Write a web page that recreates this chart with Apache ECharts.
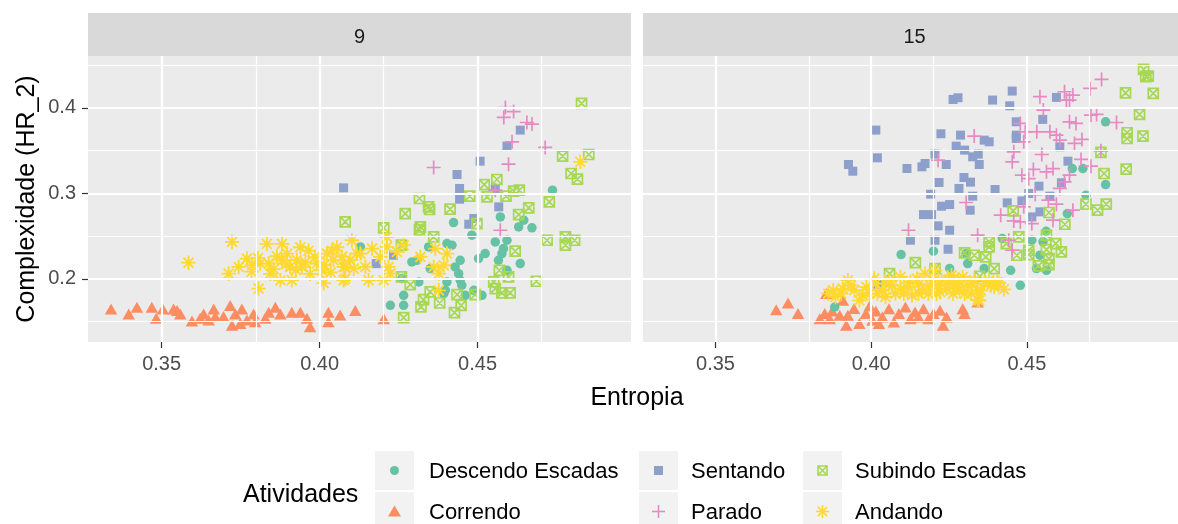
<!DOCTYPE html>
<html>
<head>
<meta charset="utf-8">
<script src="https://cdn.jsdelivr.net/npm/echarts@6/dist/echarts.min.js"></script>
<style>html,body{margin:0;padding:0;background:#fff}#c{width:1178px;height:524px}</style>
</head>
<body>
<div id="c"></div>
<script>
// ---------- data ----------
const facets = ['9', '15'];
const activities = ['Descendo Escadas', 'Correndo', 'Sentando', 'Parado', 'Subindo Escadas', 'Andando'];
const xTicks = [0.35, 0.40, 0.45];
const yTicks = [0.2, 0.3, 0.4];
const xMinor = [0.375, 0.425, 0.475];
const yMinor = [0.15, 0.25, 0.35, 0.45];

const correndo9 = [[0.334,0.165],[0.3396,0.159],[0.3422,0.167],[0.3469,0.167],[0.3483,0.154],[0.3504,0.165],[0.3538,0.165],[0.3549,0.163],[0.3559,0.159],[0.3596,0.151],[0.3622,0.154],[0.3633,0.159],[0.3649,0.152],[0.3665,0.165],[0.367,0.156],[0.3696,0.156],[0.3717,0.169],[0.3723,0.146],[0.3733,0.159],[0.3754,0.165],[0.3749,0.148],[0.377,0.152],[0.3791,0.159],[0.3796,0.15],[0.3828,0.154],[0.3839,0.161],[0.386,0.167],[0.3876,0.159],[0.3912,0.161],[0.3939,0.161],[0.396,0.154],[0.397,0.144],[0.4028,0.161],[0.4028,0.15],[0.4065,0.158],[0.4113,0.163],[0.4203,0.1536]];
const andando9 = [[0.3585,0.219],[0.3723,0.2433],[0.3712,0.2062],[0.3744,0.214],[0.377,0.2238],[0.3786,0.216],[0.3812,0.218],[0.3807,0.1887],[0.3833,0.241],[0.3839,0.218],[0.3844,0.206],[0.3881,0.241],[0.3881,0.222],[0.3876,0.1985],[0.3897,0.2296],[0.3907,0.214],[0.3912,0.1985],[0.3928,0.222],[0.3939,0.237],[0.3944,0.214],[0.3965,0.233],[0.397,0.206],[0.3991,0.218],[0.4007,0.21],[0.4013,0.195],[0.4023,0.2296],[0.4039,0.233],[0.4044,0.222],[0.4055,0.237],[0.4071,0.226],[0.4076,0.1985],[0.4081,0.214],[0.4102,0.2452],[0.4097,0.222],[0.4118,0.2296],[0.4108,0.212],[0.4076,0.214],[0.4081,0.2004],[0.4129,0.2296],[0.4145,0.214],[0.4155,0.1984],[0.4166,0.2355],[0.4192,0.2257],[0.4203,0.1984],[0.4213,0.249],[0.4213,0.2374],[0.4218,0.214],[0.4224,0.2062],[0.4245,0.2316],[0.4266,0.2394],[0.4319,0.2257],[0.4366,0.2355],[0.4361,0.214],[0.4377,0.2062],[0.4377,0.1867],[0.4403,0.2296],[0.4393,0.216],[0.4825,0.3368],[0.3855,0.2115],[0.3895,0.2175],[0.3925,0.2105],[0.3955,0.2195],[0.3985,0.2255],[0.4015,0.2165],[0.4035,0.2075],[0.3865,0.2265],[0.3805,0.2245],[0.3785,0.2085]];
const descendo9 = [[0.4129,0.2374],[0.4424,0.2659],[0.4482,0.2511],[0.4572,0.2725],[0.4556,0.2433],[0.4593,0.2452],[0.463,0.2608],[0.4646,0.2686],[0.4672,0.2597],[0.4737,0.3037],[0.4345,0.2374],[0.4403,0.2413],[0.4419,0.2394],[0.4292,0.2199],[0.4308,0.2218],[0.435,0.2121],[0.4445,0.2218],[0.4429,0.214],[0.444,0.2062],[0.4445,0.1984],[0.4403,0.1965],[0.4398,0.1867],[0.4314,0.1965],[0.4261,0.2004],[0.4266,0.1809],[0.4266,0.1692],[0.4224,0.1692],[0.4393,0.1828],[0.4461,0.1809],[0.4488,0.1867],[0.4514,0.1809],[0.4503,0.2238],[0.4524,0.2296],[0.4566,0.2218],[0.4577,0.2296],[0.4582,0.2355],[0.4593,0.2101],[0.4635,0.2179],[0.445,0.1926]];
const sentando9 = [[0.4076,0.3064],[0.4635,0.3739],[0.4593,0.3552],[0.4508,0.3376],[0.4435,0.322],[0.4443,0.3057],[0.4443,0.2932],[0.4567,0.2842],[0.4556,0.3057],[0.4488,0.2706],[0.4472,0.2639],[0.4179,0.2179],[0.4234,0.2277]];
const parado9 = [[0.4588,0.4002],[0.4614,0.3955],[0.4583,0.3887],[0.4656,0.3828],[0.4672,0.3809],[0.4609,0.3602],[0.4714,0.3536],[0.4361,0.3302],[0.4598,0.3341],[0.4556,0.3037],[0.4572,0.2569]];
const subindo9 = [[0.4081,0.2667],[0.4829,0.4051],[0.4852,0.3454],[0.4769,0.3435],[0.4796,0.3232],[0.4816,0.3166],[0.4561,0.3162],[0.4521,0.3103],[0.453,0.2959],[0.4475,0.2967],[0.459,0.2967],[0.4614,0.3025],[0.4632,0.3037],[0.4316,0.294],[0.4345,0.2842],[0.4348,0.2811],[0.4413,0.2815],[0.4271,0.2764],[0.4662,0.283],[0.4727,0.29],[0.463,0.2752],[0.4319,0.2608],[0.4316,0.2577],[0.4203,0.2597],[0.4498,0.2647],[0.4361,0.2491],[0.4259,0.2394],[0.472,0.2452],[0.4778,0.2491],[0.4778,0.2394],[0.4807,0.2452],[0.4619,0.2324],[0.4569,0.2101],[0.4598,0.2023],[0.4551,0.1965],[0.4556,0.1887],[0.4686,0.1973],[0.4577,0.1836],[0.4603,0.1836],[0.4259,0.2023],[0.4287,0.1934],[0.435,0.1848],[0.4329,0.1758],[0.4321,0.1673],[0.438,0.1719],[0.4435,0.1817],[0.4492,0.1817],[0.4448,0.1692],[0.4427,0.1606],[0.4266,0.1548]];

const sentando15 = [[0.4015,0.3739],[0.402,0.3415],[0.3927,0.3337],[0.3941,0.3259],[0.4263,0.4097],[0.4279,0.4117],[0.4453,0.4195],[0.439,0.409],[0.4445,0.4023],[0.4595,0.4121],[0.4224,0.3696],[0.4287,0.368],[0.4466,0.3836],[0.4551,0.3864],[0.4466,0.368],[0.4466,0.3641],[0.4273,0.3552],[0.43,0.3505],[0.4363,0.3622],[0.4379,0.3602],[0.4205,0.3458],[0.4326,0.3427],[0.4344,0.3458],[0.4115,0.329],[0.4163,0.331],[0.4173,0.3349],[0.4241,0.3337],[0.4347,0.3337],[0.4606,0.3544],[0.4632,0.3376],[0.4218,0.3127],[0.4298,0.3185],[0.4319,0.3131],[0.4282,0.3057],[0.4398,0.3045],[0.4191,0.299],[0.4326,0.2967],[0.4226,0.285],[0.4252,0.2869],[0.4168,0.2752],[0.4194,0.2752],[0.4318,0.2803],[0.4215,0.262],[0.4252,0.2569],[0.4126,0.2452],[0.4205,0.2452],[0.4247,0.2347],[0.4437,0.2889],[0.4484,0.2912],[0.4506,0.2998],[0.4539,0.3084],[0.4574,0.2967],[0.4542,0.2784],[0.4611,0.3123],[0.4516,0.2725],[0.402,0.1938]];
const parado15 = [[0.474,0.4331],[0.4621,0.4187],[0.4648,0.4148],[0.4627,0.409],[0.4703,0.4226],[0.4542,0.4129],[0.4553,0.3973],[0.4637,0.409],[0.4637,0.3836],[0.4658,0.3817],[0.4706,0.3914],[0.4724,0.3922],[0.4788,0.3828],[0.4479,0.3817],[0.4495,0.3719],[0.4532,0.3719],[0.4574,0.3719],[0.4595,0.368],[0.4606,0.3622],[0.449,0.3602],[0.4331,0.3669],[0.4653,0.3583],[0.4677,0.363],[0.4458,0.3485],[0.4548,0.3454],[0.4215,0.3388],[0.4453,0.3368],[0.4674,0.3396],[0.4706,0.3318],[0.4738,0.3497],[0.4484,0.3212],[0.4521,0.3279],[0.4563,0.3251],[0.4584,0.329],[0.4637,0.3212],[0.4621,0.3134],[0.4506,0.3173],[0.4606,0.3057],[0.4527,0.2986],[0.4569,0.292],[0.4595,0.2873],[0.449,0.2842],[0.4305,0.2893],[0.4416,0.2745],[0.4458,0.2678],[0.4479,0.2667],[0.4516,0.2647],[0.4584,0.2686],[0.4648,0.2803],[0.412,0.2569],[0.4342,0.2511],[0.4442,0.2452],[0.4453,0.2335]];
const descendo15 = [[0.4753,0.3836],[0.4646,0.329],[0.468,0.329],[0.4753,0.3103],[0.469,0.2979],[0.463,0.2764],[0.4562,0.2557],[0.4552,0.2433],[0.4516,0.2452],[0.4542,0.2277],[0.4531,0.2121],[0.4563,0.2101],[0.4479,0.1926],[0.4448,0.2101],[0.4421,0.2472],[0.4363,0.2121],[0.431,0.218],[0.4305,0.2296],[0.4252,0.2121],[0.42,0.2324],[0.4096,0.2285],[0.3883,0.1672]];
const subindo15 = [[0.4875,0.4448],[0.4882,0.4363],[0.489,0.437],[0.4817,0.4175],[0.4906,0.4168],[0.4862,0.3922],[0.4822,0.3708],[0.4822,0.3641],[0.4873,0.3669],[0.4738,0.3478],[0.4748,0.3232],[0.4819,0.3283],[0.469,0.2873],[0.4727,0.2803],[0.4755,0.2873],[0.4622,0.2639],[0.4571,0.2776],[0.4456,0.2795],[0.4563,0.2511],[0.4593,0.2413],[0.4611,0.2316],[0.4563,0.2343],[0.4571,0.2238],[0.4571,0.2168],[0.4537,0.2152],[0.4506,0.2335],[0.4506,0.2285],[0.4474,0.2491],[0.4468,0.2277],[0.4434,0.2413],[0.4379,0.2433],[0.4379,0.2374],[0.4368,0.2257],[0.4395,0.2121],[0.4331,0.2277],[0.43,0.2304],[0.4349,0.2031],[0.4142,0.2191],[0.4059,0.2062],[0.4205,0.2121]];
const andando15 = [[0.3862,0.1829],[0.3878,0.1868],[0.3904,0.1829],[0.3925,0.1985],[0.3909,0.1887],[0.3946,0.1868],[0.3973,0.1809],[0.3994,0.1829],[0.401,0.2004],[0.4036,0.1868],[0.3962,0.175],[0.4015,0.1945],[0.4036,0.1867],[0.4057,0.1984],[0.4078,0.1829],[0.4094,0.2023],[0.4115,0.1906],[0.4131,0.1809],[0.4147,0.2004],[0.4163,0.1867],[0.4173,0.2062],[0.4189,0.1926],[0.4205,0.2101],[0.421,0.1828],[0.4226,0.1984],[0.4242,0.1887],[0.4258,0.2043],[0.4268,0.1945],[0.4284,0.1867],[0.4294,0.2023],[0.431,0.1926],[0.4321,0.1828],[0.4331,0.1984],[0.4342,0.1867],[0.4363,0.1945],[0.4379,0.1984],[0.4395,0.1906],[0.4405,0.1965],[0.4426,0.1879],[0.4342,0.1758],[0.402,0.1829],[0.4046,0.1789],[0.4067,0.1926],[0.4105,0.1828],[0.4126,0.1965],[0.4152,0.1828],[0.4184,0.1828],[0.42,0.1984],[0.4221,0.1848],[0.4247,0.1984],[0.4263,0.1828],[0.4279,0.1984],[0.43,0.1828],[0.4352,0.1867],[0.3885,0.179],[0.3935,0.1925],[0.3985,0.1905],[0.4045,0.1945],[0.4095,0.1885],[0.4155,0.1945],[0.4215,0.1925],[0.4275,0.1905],[0.4325,0.1945],[0.4385,0.1925],[0.441,0.195],[0.4347,0.1748]];
const correndo15 = [[0.3695,0.1641],[0.3733,0.1719],[0.3765,0.1595],[0.3851,0.1595],[0.3835,0.1536],[0.3867,0.1536],[0.3899,0.1575],[0.392,0.1458],[0.3925,0.1575],[0.3962,0.1478],[0.3983,0.1595],[0.4004,0.1517],[0.4025,0.1478],[0.3856,0.1829],[0.3909,0.175],[0.4036,0.1556],[0.4057,0.1653],[0.4073,0.1497],[0.4089,0.1595],[0.411,0.1672],[0.4126,0.1536],[0.4141,0.1614],[0.4152,0.1556],[0.4168,0.1653],[0.4184,0.1536],[0.42,0.1595],[0.4221,0.1634],[0.4231,0.1458],[0.4242,0.1556],[0.4294,0.1653],[0.43,0.1595],[0.4342,0.1731],[0.3875,0.1625],[0.3945,0.1655],[0.3995,0.1685],[0.4015,0.1625]];

// ---------- style ----------
const FONT = '"Liberation Sans", Arial, sans-serif';
const COLORS = {'Descendo Escadas':'#66C2A5','Correndo':'#FC8D62','Sentando':'#8DA0CB','Parado':'#E78AC3','Subindo Escadas':'#A6D854','Andando':'#FFD92F'};
const P_PLUS = 'M5,0V10M0,5H10';
const P_BOXX = 'M0,0H10V10H0ZM0,0L10,10M10,0L0,10';
const P_AST = 'M5,0V10M0,5H10M1.6,1.6L8.4,8.4M8.4,1.6L1.6,8.4';
const SYM = {
  'Descendo Escadas': {symbol:'circle', size:9.5, stroke:0},
  'Correndo': {symbol:'triangle', size:[12.5,11], stroke:0},
  'Sentando': {symbol:'rect', size:9, stroke:0},
  'Parado': {symbol:'path://' + P_PLUS, size:14, stroke:1.7},
  'Subindo Escadas': {symbol:'path://' + P_BOXX, size:10, stroke:1.7},
  'Andando': {symbol:'path://' + P_AST, size:14.5, stroke:1.8}
};
const byPanel = [
  {'Sentando':sentando9,'Correndo':correndo9,'Descendo Escadas':descendo9,'Subindo Escadas':subindo9,'Andando':andando9,'Parado':parado9},
  {'Sentando':sentando15,'Correndo':correndo15,'Descendo Escadas':descendo15,'Subindo Escadas':subindo15,'Andando':andando15,'Parado':parado15}
];
const drawOrder = ['Sentando','Correndo','Descendo Escadas','Subindo Escadas','Andando','Parado'];

const PANEL_W = 543, PANEL_H = 286, PANEL_TOP = 56;
const panelLeft = [88, 643];
const X_MIN = 0.32671, X_MAX = 0.49855, Y_MIN = 0.12632, Y_MAX = 0.46047;

const chart = echarts.init(document.getElementById('c'), null, {renderer:'canvas'});

const grids = panelLeft.map(l => ({left:l, top:PANEL_TOP, width:PANEL_W, height:PANEL_H, show:true, backgroundColor:'#EBEBEB', borderWidth:0, containLabel:false}));

const xAxes = panelLeft.map((l,i) => ({
  type:'value', gridIndex:i, min:X_MIN, max:X_MAX,
  axisLine:{show:false}, splitLine:{show:false},
  axisTick:{show:true, length:6, customValues:xTicks, lineStyle:{color:'#333333', width:1.2}},
  axisLabel:{show:true, customValues:xTicks, margin:12, color:'#4D4D4D', fontSize:20, fontFamily:FONT, formatter:v => Number(v).toFixed(2)}
}));
const yAxes = panelLeft.map((l,i) => ({
  type:'value', gridIndex:i, min:Y_MIN, max:Y_MAX,
  axisLine:{show:false}, splitLine:{show:false},
  axisTick:{show:i===0, length:6, customValues:yTicks, lineStyle:{color:'#333333', width:1.2}},
  axisLabel:{show:i===0, customValues:yTicks, margin:12, color:'#4D4D4D', fontSize:20, fontFamily:FONT, formatter:v => Number(v).toFixed(1)}
}));

const series = [];
panelLeft.forEach((l,i) => {
  const ml = [];
  xMinor.forEach(v => ml.push({xAxis:v, lineStyle:{width:1.2}}));
  yMinor.forEach(v => ml.push({yAxis:v, lineStyle:{width:1.2}}));
  xTicks.forEach(v => ml.push({xAxis:v, lineStyle:{width:2.2}}));
  yTicks.forEach(v => ml.push({yAxis:v, lineStyle:{width:2.2}}));
  series.push({
    type:'scatter', xAxisIndex:i, yAxisIndex:i, data:[], z:1, silent:true,
    markLine:{silent:true, symbol:['none','none'], label:{show:false}, animation:false,
      lineStyle:{color:'#FFFFFF', type:'solid', opacity:1}, data:ml}
  });
  drawOrder.forEach(name => {
    const s = SYM[name];
    const c = COLORS[name];
    series.push({
      name:name, type:'scatter', xAxisIndex:i, yAxisIndex:i, z:2,
      data:byPanel[i][name], symbol:s.symbol, symbolSize:s.size, silent:true,
      itemStyle: s.stroke ? {color:'rgba(0,0,0,0)', borderColor:c, borderWidth:s.stroke, opacity:1}
                          : {color:c, borderWidth:0, opacity:1}
    });
  });
});

// ---------- strips, titles, legend (graphic) ----------
const graphic = [];
panelLeft.forEach((l,i) => {
  graphic.push({type:'rect', shape:{x:l, y:13, width:PANEL_W, height:43}, style:{fill:'#D9D9D9'}, silent:true});
  graphic.push({type:'text', x:l + PANEL_W/2, y:37, style:{text:facets[i], fill:'#1A1A1A', font:'20px ' + FONT, align:'center', verticalAlign:'middle'}, silent:true});
});
graphic.push({type:'text', x:(panelLeft[0] + panelLeft[1] + PANEL_W)/2, y:398, style:{text:'Entropia', fill:'#000', font:'25px ' + FONT, align:'center', verticalAlign:'middle'}, silent:true});
graphic.push({type:'text', x:27, y:PANEL_TOP + PANEL_H/2, rotation:Math.PI/2, style:{text:'Complexidade (HR_2)', fill:'#000', font:'25px ' + FONT, align:'center', verticalAlign:'middle'}, silent:true});
graphic.push({type:'text', x:243, y:495, style:{text:'Atividades', fill:'#000', font:'25px ' + FONT, align:'left', verticalAlign:'middle'}, silent:true});

function segs(list, c) {
  return list.map(s => ({type:'line', shape:{x1:s[0], y1:s[1], x2:s[2], y2:s[3]}, style:{stroke:c, lineWidth:1.6}, silent:true}));
}
const legendLayout = [
  ['Descendo Escadas', 375, 451, 429], ['Sentando', 639, 451, 691], ['Subindo Escadas', 803, 451, 855],
  ['Correndo', 375, 492, 429], ['Parado', 639, 492, 691], ['Andando', 803, 492, 855]
];
legendLayout.forEach(([name, kx, ky, tx]) => {
  const c = COLORS[name];
  const cx = kx + 19.5, cy = ky + 19.5;
  graphic.push({type:'rect', shape:{x:kx, y:ky, width:39, height:39}, style:{fill:'#F2F2F2'}, silent:true});
  if (name === 'Descendo Escadas') graphic.push({type:'circle', shape:{cx:cx, cy:cy, r:4.5}, style:{fill:c}, silent:true});
  else if (name === 'Correndo') graphic.push({type:'polygon', shape:{points:[[cx, cy-6],[cx+6.5, cy+5],[cx-6.5, cy+5]]}, style:{fill:c}, silent:true});
  else if (name === 'Sentando') graphic.push({type:'rect', shape:{x:cx-4.5, y:cy-4.5, width:9, height:9}, style:{fill:c}, silent:true});
  else if (name === 'Parado') segs([[cx,cy-6.5,cx,cy+6.5],[cx-6.5,cy,cx+6.5,cy]], c).forEach(g => graphic.push(g));
  else if (name === 'Andando') segs([[cx,cy-6.5,cx,cy+6.5],[cx-6.5,cy,cx+6.5,cy],[cx-4.6,cy-4.6,cx+4.6,cy+4.6],[cx+4.6,cy-4.6,cx-4.6,cy+4.6]], c).forEach(g => graphic.push(g));
  else {
    graphic.push({type:'rect', shape:{x:cx-4.5, y:cy-4.5, width:9, height:9}, style:{fill:'none', stroke:c, lineWidth:1.6}, silent:true});
    segs([[cx-4.5,cy-4.5,cx+4.5,cy+4.5],[cx+4.5,cy-4.5,cx-4.5,cy+4.5]], c).forEach(g => graphic.push(g));
  }
  graphic.push({type:'text', x:tx, y:cy + 1, style:{text:name, fill:'#000', font:'22px ' + FONT, align:'left', verticalAlign:'middle'}, silent:true});
});

chart.setOption({
  animation:false,
  backgroundColor:'#FFFFFF',
  textStyle:{fontFamily:FONT},
  grid:grids, xAxis:xAxes, yAxis:yAxes, series:series, graphic:graphic
});
</script>
</body>
</html>
